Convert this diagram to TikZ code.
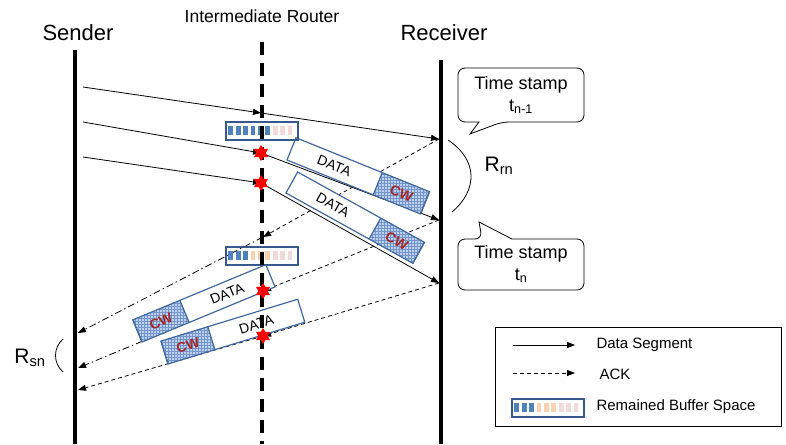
\documentclass[tikz,border=0pt]{standalone}
\usepackage{fontspec}
\setmainfont{Liberation Sans}
\usetikzlibrary{arrows.meta,shapes.geometric,patterns}

\definecolor{boxblue}{RGB}{65,105,160}
\definecolor{cwfill}{RGB}{190,208,236}
\definecolor{cwgrid}{RGB}{115,150,205}
\definecolor{cwred}{RGB}{165,40,40}
\definecolor{cellblue}{RGB}{79,129,189}
\definecolor{cellpeach}{RGB}{250,210,175}
\definecolor{cellpink}{RGB}{242,218,218}
\definecolor{bufframe}{RGB}{55,90,140}

\tikzset{
  lifeline/.style={line width=3.5pt},
  routerline/.style={line width=3.5pt, dash pattern=on 13pt off 8pt},
  datamsg/.style={-{Triangle[length=8pt,width=6pt]}, line width=0.8pt},
  ackmsg/.style={datamsg, dash pattern=on 4pt off 3pt},
  ackfwd/.style={datamsg, dash pattern=on 7pt off 3pt on 1.5pt off 3pt},
  drop/.style={star, star points=6, star point ratio=1.7, fill=red, minimum size=16pt, inner sep=0pt},
  bubble/.style={line width=0.8pt, rounded corners=7pt},
}

% packet: #1 lower left corner, #2 angle, #3 length, #4-#5 CW part, #6 DATA centre, #7 name
\newcommand{\pkt}[7]{%
  \begin{scope}[shift={#1}, rotate=#2]
    \fill[white] (0,0) rectangle (#3,-24);
    \fill[cwfill] (#4,0) rectangle (#5,-24);
    \fill[pattern=grid, pattern color=cwgrid] (#4,0) rectangle (#5,-24);
    \draw[boxblue, line width=1.2pt] (0,0) rectangle (#3,-24);
    \draw[boxblue, line width=1.2pt] (#4,0) -- (#4,-24) (#5,0) -- (#5,-24);
    \node[rotate=#2, inner sep=0pt, font=\fontsize{14}{14}\selectfont] (#7data) at (#6,-12) {DATA};
    \node[rotate=#2, inner sep=0pt, text=cwred, font=\bfseries\fontsize{14}{14}\selectfont] (#7cw) at ({(#4+#5)/2},-12) {CW};
  \end{scope}}

% buffer: #1 x, #2 y (upper left), #3 blue cells, #4 peach cells, #5 name
\newcommand{\bufbar}[5]{%
  \node[draw=bufframe, line width=2pt, minimum width=72pt, minimum height=18pt,
        inner sep=0pt, anchor=north west] (#5) at (#1,#2) {};
  \foreach \i in {0,...,8}{
    \pgfmathtruncatemacro\kind{(\i<#3) ? 0 : ((\i<#3+#4) ? 1 : 2)}
    \ifcase\kind \def\cellc{cellblue}\or \def\cellc{cellpeach}\else \def\cellc{cellpink}\fi
    \fill[\cellc] (#1+3.4+7.4*\i,#2+4.5) rectangle ++(4.8,9);
  }}

\begin{document}
\begin{tikzpicture}[x=1pt,y=-1pt]
  \useasboundingbox (0,0) rectangle (786,444);

  % the three parties
  \node[font=\fontsize{22}{26}\selectfont] (sender) at (78,33) {Sender};
  \node[font=\fontsize{17.5}{20}\selectfont] (router) at (262,16) {Intermediate Router};
  \node[font=\fontsize{22}{26}\selectfont] (receiver) at (444,33) {Receiver};

  \draw[lifeline] (75,50) -- (75,444);
  \draw[lifeline] (441,60) -- (441,444);

  % sender side
  \coordinate (s1) at (83,87);
  \coordinate (s2) at (83,122);
  \coordinate (s3) at (83,157);
  \coordinate (s4) at (78,333);
  \coordinate (s5) at (78,368);
  \coordinate (s6) at (78,390);
  % router side
  \coordinate (m1) at (261,113);
  \coordinate (m2) at (261,153);
  \coordinate (m3) at (261,183);
  \coordinate (m4) at (263,237);
  \coordinate (m5) at (263,291);
  \coordinate (m6) at (263,336);
  % receiver side
  \coordinate (r1) at (439,139);
  \coordinate (r2) at (439,220);
  \coordinate (r3) at (439,283);

  % data segments
  \draw[datamsg] (s1) -- (m1);
  \draw[datamsg] (m1) -- (r1);
  \draw[datamsg] (s2) -- (m2);
  \draw[datamsg] (m2) -- (r2);
  \draw[datamsg] (s3) -- (m3);
  \draw[datamsg] (m3) -- (r3);

  % acks
  \draw[ackmsg] (r1) -- (m4);
  \draw[ackfwd] (m4) -- (s4);
  \draw[ackmsg] (r2) -- (m5);
  \draw[ackfwd] (m5) -- (s5);
  \draw[ackmsg] (r3) -- (m6);
  \draw[ackmsg] (m6) -- (s6);

  % packets
  \pkt{(287,160)}{-22}{144}{93}{144}{46}{pa}
  \pkt{(286,193)}{-29}{145}{95}{145}{47}{pb}
  \pkt{(142,342)}{22.5}{144}{0}{51}{97}{pc}
  \pkt{(168,364)}{17}{143}{0}{49}{96}{pd}

  % router buffer
  \bufbar{225}{121}{6}{0}{bufa}
  \bufbar{225}{246}{3}{3}{bufb}

  \draw[routerline] (262,42) -- (262,444);

  % dropped
  \node[drop] (x1) at (m2) {};
  \node[drop] (x2) at (m3) {};
  \node[drop] (x3) at (m5) {};
  \node[drop] (x4) at (m6) {};

  % time stamps
  \node[font=\fontsize{18}{22}\selectfont, align=center] (tsold) at (521,95) {Time stamp\\t\textsubscript{n-1}};
  \draw[bubble] (521,68) -| (584,122) -- (502,122) [sharp corners] -- (470,134) -- (479,122)
    [rounded corners=7pt] -| (458,68) -- cycle;
  \node[font=\fontsize{18}{22}\selectfont, align=center] (tsnew) at (521,264) {Time stamp\\t\textsubscript{n}};
  \draw[bubble] (521,290) -| (458,239) -- (482,239) [sharp corners] -- (479,222) -- (512,239)
    [rounded corners=7pt] -| (584,290) -- cycle;

  % rates
  \draw[line width=0.8pt] (448,140) .. controls (478,160) and (478,190) .. (452,212);
  \node[font=\fontsize{21}{24}\selectfont] (rrn) at (499,166) {R\textsubscript{rn}};
  \draw[line width=0.8pt] (63,339) .. controls (53,348) and (53,363) .. (63,372);
  \node[font=\fontsize{21}{24}\selectfont] (rsn) at (30,358) {R\textsubscript{sn}};

  % legend
  \node[draw, line width=0.8pt, minimum width=286pt, minimum height=99pt, inner sep=0pt,
        anchor=north west] (legend) at (495,327) {};
  \coordinate (la) at (513,345);
  \coordinate (lb) at (575,345);
  \coordinate (lc) at (513,373);
  \coordinate (ld) at (575,373);
  \draw[datamsg] (la) -- (lb);
  \draw[ackmsg] (lc) -- (ld);
  \bufbar{511}{398}{3}{3}{bufc}
  \node[anchor=west, font=\fontsize{15}{18}\selectfont] (ldata) at (593,345) {Data Segment};
  \node[anchor=west, font=\fontsize{15}{18}\selectfont] (lack) at (596,374) {ACK};
  \node[anchor=west, font=\fontsize{15}{18}\selectfont] (lbuf) at (593,407) {Remained Buffer Space};
\end{tikzpicture}
\end{document}
